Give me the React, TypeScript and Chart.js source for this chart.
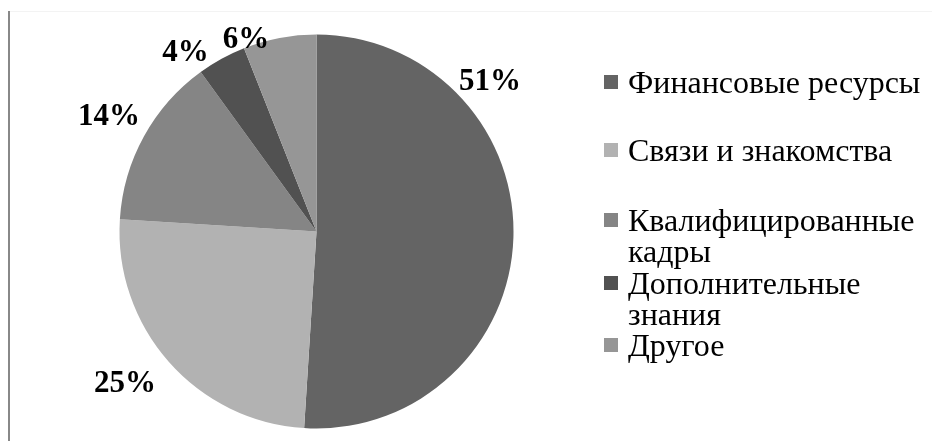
import React, { useEffect, useRef } from "react";
import { Chart, registerables } from "chart.js";

Chart.register(...registerables);

const categories = [
  "Финансовые ресурсы",
  "Связи и знакомства",
  "Квалифицированные кадры",
  "Дополнительные знания",
  "Другое",
];
const legendLines = [
  ["Финансовые ресурсы"],
  ["Связи и знакомства"],
  ["Квалифицированные", "кадры"],
  ["Дополнительные", "знания"],
  ["Другое"],
];
const shares = [51, 25, 14, 4, 6];
const pctLabels = ["51%", "25%", "14%", "4%", "6%"];

const colors = ["#646464", "#b2b2b2", "#858585", "#515151", "#969696"];
const labelAngleFrac = [0.266, 0.536, 0.51, 0.0, 0.074];
const labelRadiusFactor = [1.169, 1.236, 1.208, 1.131, 1.045];
const legendCenters = [82, 150, 220, 283, 345];
const legendLineGap = 31;

const LABEL_FONT = "bold 31px 'Liberation Serif'";
const LEGEND_FONT = "32px 'Liberation Serif'";

const decorPlugin = {
  id: "decor",
  beforeDraw(chart: any) {
    const ctx = chart.ctx;
    ctx.save();
    ctx.fillStyle = "#f3f3f3";
    ctx.fillRect(9, 11, 923, 1);
    ctx.fillStyle = "#888888";
    ctx.fillRect(8, 11, 2, 430);
    ctx.restore();
  },
  afterDraw(chart: any) {
    const ctx = chart.ctx;
    const meta = chart.getDatasetMeta(0);
    ctx.save();
    ctx.fillStyle = "#000000";
    ctx.font = LABEL_FONT;
    ctx.textAlign = "center";
    ctx.textBaseline = "middle";
    meta.data.forEach((arc: any, i: number) => {
      const p = arc.getProps(["x", "y", "startAngle", "endAngle", "outerRadius"], true);
      const a = p.startAngle + labelAngleFrac[i] * (p.endAngle - p.startAngle);
      const r = p.outerRadius * labelRadiusFactor[i];
      ctx.fillText(pctLabels[i], p.x + r * Math.cos(a), p.y + r * Math.sin(a) + 2);
    });

    ctx.font = LEGEND_FONT;
    ctx.textAlign = "left";
    ctx.textBaseline = "alphabetic";
    legendLines.forEach((lines, i) => {
      const cy = legendCenters[i];
      ctx.fillStyle = colors[i];
      ctx.fillRect(604, cy - 7, 14, 14);
      ctx.fillStyle = "#000000";
      lines.forEach((t, j) => {
        ctx.fillText(t, 628, cy + 10.5 + j * legendLineGap);
      });
    });
    ctx.restore();
  },
};

export default function App() {
  const ref = useRef<HTMLCanvasElement | null>(null);
  useEffect(() => {
    let chart: Chart | null = null;
    let cancelled = false;
    const build = () => {
      if (cancelled || !ref.current) return;
      chart = new Chart(ref.current, {
        type: "pie",
        data: {
          labels: categories,
          datasets: [
            {
              data: shares,
              backgroundColor: colors,
              borderWidth: 0,
            },
          ],
        },
        options: {
          responsive: false,
          animation: false,
          layout: {
            padding: { left: 119.5, right: 418.5, top: 34, bottom: 12 },
          },
          plugins: {
            legend: { display: false },
            tooltip: { enabled: false },
          },
        },
        plugins: [decorPlugin],
      });
    };
    const fonts: any = (document as any).fonts;
    if (fonts && fonts.load) {
      Promise.all([
        fonts.load(LABEL_FONT, "51%"),
        fonts.load(LEGEND_FONT, "Финансовые ресурсы"),
      ])
        .catch(() => undefined)
        .then(build);
    } else {
      build();
    }
    return () => {
      cancelled = true;
      if (chart) chart.destroy();
    };
  }, []);
  return (
    <div style={{ position: "fixed", left: 0, top: 0, width: 932, height: 441, background: "#ffffff" }}>
      <canvas ref={ref} width={932} height={441} style={{ width: 932, height: 441, display: "block" }} />
    </div>
  );
}
